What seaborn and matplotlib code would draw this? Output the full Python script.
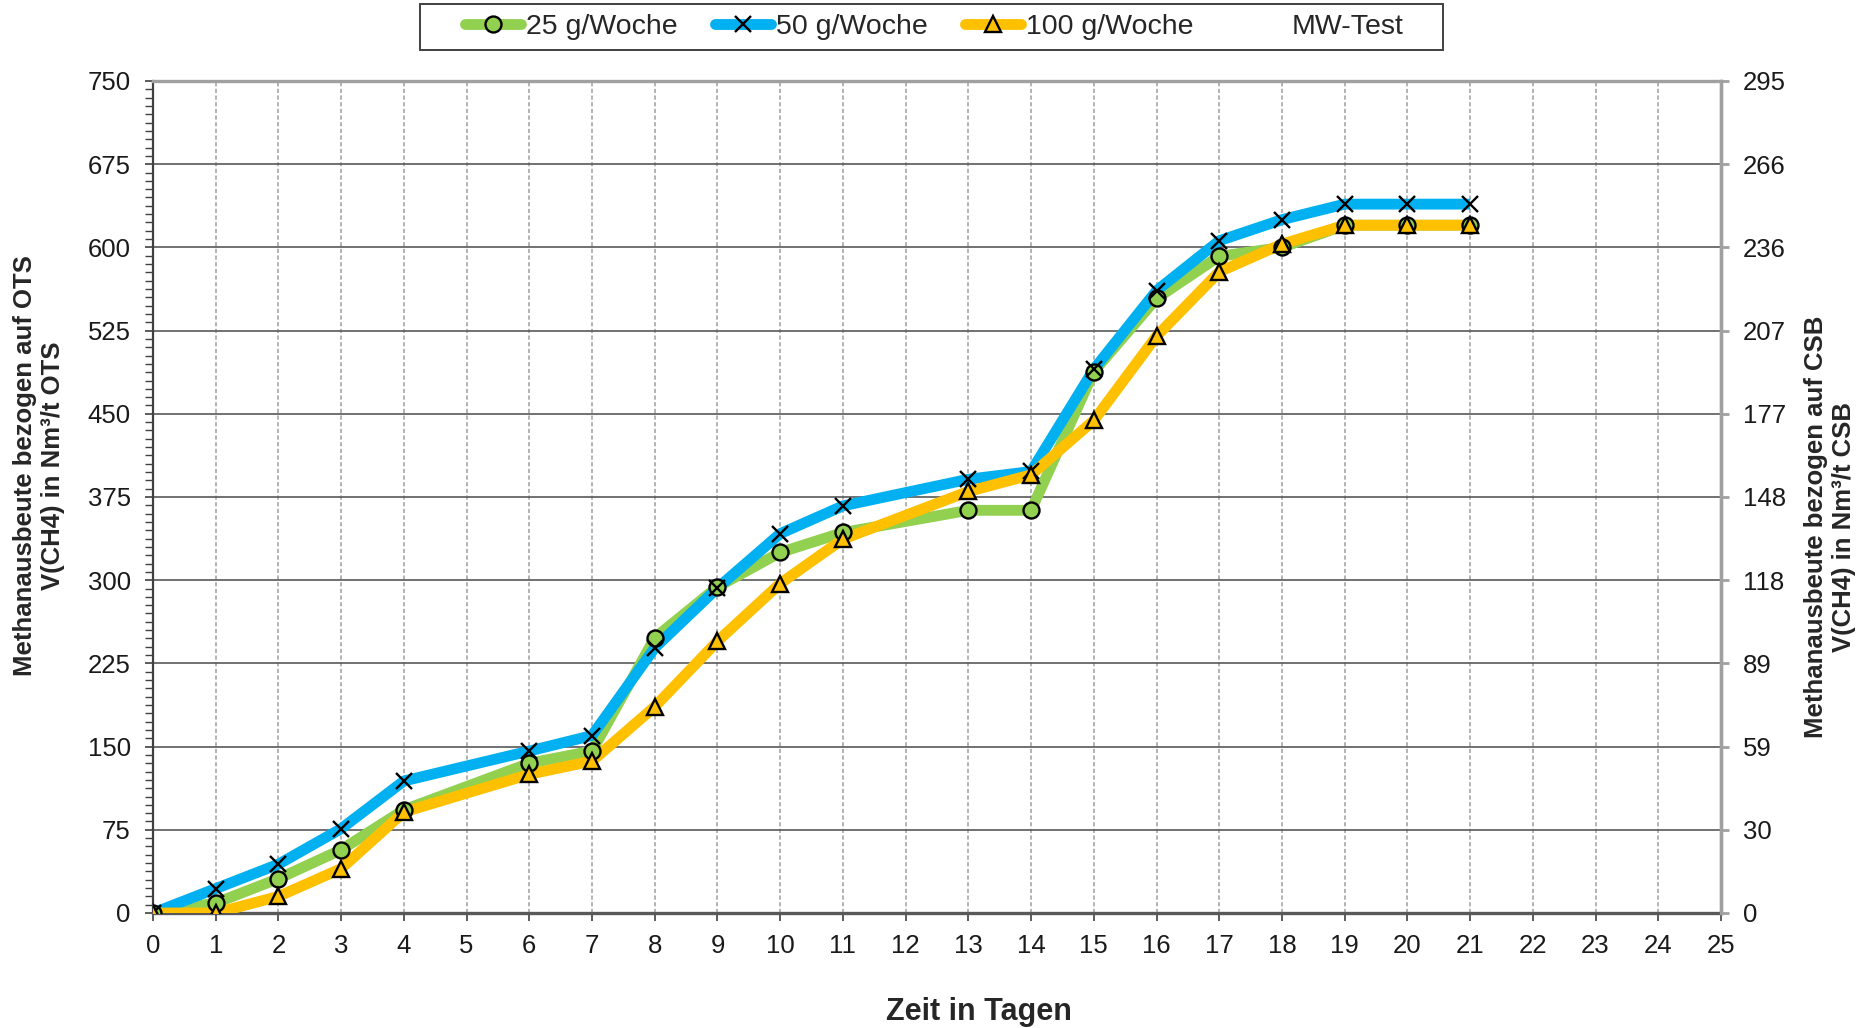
import matplotlib
matplotlib.use("Agg")
import matplotlib.pyplot as plt
from matplotlib.lines import Line2D
from matplotlib.patches import Rectangle
from matplotlib.ticker import MultipleLocator
import seaborn as sns
import pandas as pd

# ---------------- data ----------------
days = [0, 1, 2, 3, 4, 6, 7, 8, 9, 10, 11, 13, 14, 15, 16, 17, 18, 19, 20, 21]
g25 = [0, 9, 31, 57, 93, 135, 146, 248, 294, 325, 343, 363, 363, 488, 554, 592, 600, 620, 620, 620]
g50 = [0, 22, 44, 76, 119, 146, 160, 239, 293, 342, 367, 391, 398, 490, 561, 606, 625, 639, 639, 639]
g100 = [0, 0, 15, 40, 91, 125, 137, 186, 245, 297, 337, 380, 395, 444, 520, 578, 603, 620, 620, 620]
series_names = ["25 g/Woche", "50 g/Woche", "100 g/Woche"]
extra_legend = "MW-Test"
left_ticks = [0, 75, 150, 225, 300, 375, 450, 525, 600, 675, 750]
right_tick_labels = ["0", "30", "59", "89", "118", "148", "177", "207", "236", "266", "295"]
x_ticks = list(range(0, 26))
xlabel = "Zeit in Tagen"
ylabel_left = "Methanausbeute bezogen auf OTS\nV(CH4) in Nm³/t OTS"
ylabel_right = "Methanausbeute bezogen auf CSB\nV(CH4) in Nm³/t CSB"

colors = ["#92D050", "#00B0F0", "#FFC000"]
markers = ["o", "x", "^"]

sns.set_style("white")
plt.rcParams["font.family"] = ["Liberation Sans", "DejaVu Sans"]

W, H = 1872, 1028
fig = plt.figure(figsize=(W / 100, H / 100), dpi=100)
ax = fig.add_axes([153 / W, 1 - 913 / H, (1721 - 153) / W, (913 - 81) / H])

frames = []
for name, vals in zip(series_names, [g25, g50, g100]):
    frames.append(pd.DataFrame({"Tag": days, "Wert": vals, "Serie": name}))
df = pd.concat(frames, ignore_index=True)

# lines
for name, c in zip(series_names, colors):
    sub = df[df["Serie"] == name]
    sns.lineplot(data=sub, x="Tag", y="Wert", color=c, lw=7.8, ax=ax,
                 legend=False, zorder=3, solid_joinstyle="round",
                 solid_capstyle="butt", sort=False)
# markers on top
for name, c, m in zip(series_names, colors, markers):
    sub = df[df["Serie"] == name]
    sns.lineplot(data=sub, x="Tag", y="Wert", ax=ax, legend=False, zorder=4,
                 linestyle="none", marker=m, markersize=11.5,
                 markerfacecolor=c, markeredgecolor="black",
                 markeredgewidth=1.7, sort=False)

ax.set_xlim(0, 25)
ax.set_ylim(0, 750)
ax.set_xticks(x_ticks)
ax.set_xticklabels([str(t) for t in x_ticks])
ax.set_yticks(left_ticks)
ax.set_yticklabels([str(t) for t in left_ticks])
ax.yaxis.set_minor_locator(MultipleLocator(7.5))
ax.set_xlabel("")
ax.set_ylabel("")

ax.set_axisbelow(True)
ax.yaxis.grid(True, which="major", color="#595959", lw=1.2, ls="-")
ax.xaxis.grid(True, which="major", color="#A6A6A6", lw=1.2, ls=(0, (2.5, 1.5)))

ax.tick_params(axis="x", which="major", direction="out", length=6, width=1.2,
               color="#404040", labelsize=18.5, pad=9, bottom=True,
               labelcolor="#1a1a1a")
ax.tick_params(axis="y", which="major", direction="out", length=6, width=1.2,
               color="#404040", labelsize=18.5, pad=10, left=True,
               labelcolor="#1a1a1a")
ax.tick_params(axis="y", which="minor", direction="out", length=6, width=1.0,
               color="#404040", left=True)

for s, (col, lw) in {"left": ("#404040", 1.6), "bottom": ("#595959", 2.4),
                     "top": ("#A0A0A0", 2.4), "right": ("#A0A0A0", 2.4)}.items():
    ax.spines[s].set_visible(True)
    ax.spines[s].set_color(col)
    ax.spines[s].set_linewidth(lw)

# right axis
ax2 = ax.twinx()
ax2.set_ylim(0, 750)
ax2.set_yticks(left_ticks)
ax2.set_yticklabels(right_tick_labels)
ax2.tick_params(axis="y", which="major", direction="out", length=6, width=2.0,
                color="#A0A0A0", labelsize=18.5, pad=10, right=True,
                labelcolor="#1a1a1a")
for s in ["left", "top", "bottom"]:
    ax2.spines[s].set_visible(False)
ax2.spines["right"].set_color("#A0A0A0")
ax2.spines["right"].set_linewidth(2.4)
ax2.grid(False)

# axis titles
fig.text(979 / W, 1 - 1012 / H, xlabel, ha="center", va="center",
         fontsize=22, fontweight="bold")
fig.text(39 / W, 1 - 466 / H, ylabel_left, ha="center", va="center",
         rotation=90, fontsize=18.5, fontweight="bold", multialignment="center",
         linespacing=1.2)
fig.text(1830 / W, 1 - 527 / H, ylabel_right, ha="center", va="center",
         rotation=90, fontsize=18.5, fontweight="bold", multialignment="center",
         linespacing=1.2)

# legend
handles = []
for c, m in zip(colors, markers):
    handles.append(Line2D([], [], color=c, lw=7.8, solid_capstyle="round",
                          marker=m, markersize=11.5, markerfacecolor=c,
                          markeredgecolor="black", markeredgewidth=1.7))
handles.append(Line2D([], [], color="none", lw=0))
labels = series_names + [extra_legend]
fig.legend(handles, labels, loc="center", bbox_to_anchor=(934.5 / W, 1 - 27 / H),
           ncol=4, frameon=False, fontsize=20.5, handlelength=1.96,
           handletextpad=0.17, columnspacing=1.33, borderpad=0)
fig.patches.append(Rectangle((420 / W, 1 - 50 / H), (1443 - 420) / W, 46 / H,
                             transform=fig.transFigure, fill=False,
                             edgecolor="#404040", lw=1.4))

fig.savefig("out.png", dpi=100)
